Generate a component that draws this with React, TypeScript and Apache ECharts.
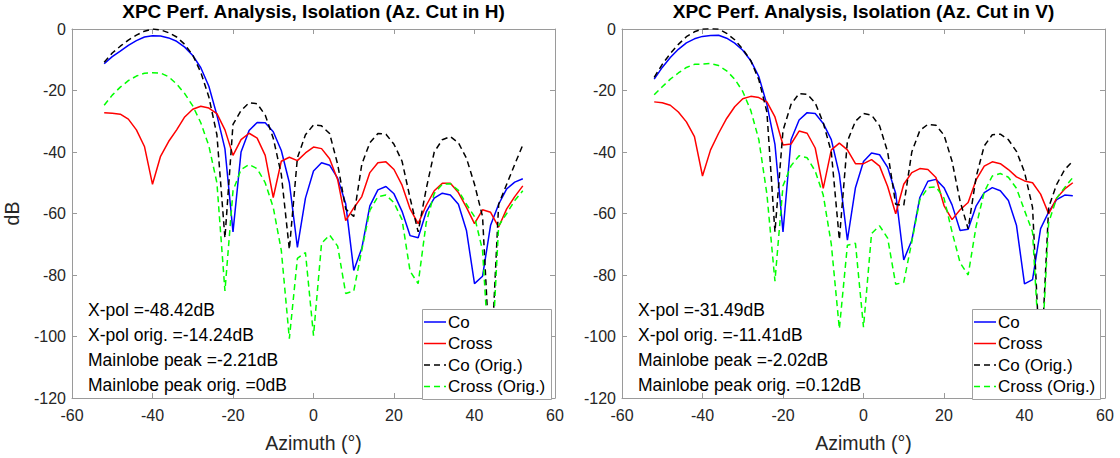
import React, { useEffect, useRef } from "react";
import * as echarts from "echarts";

const azimuth = [-52, -50, -48, -46, -44, -42, -40, -38, -36, -34, -32, -30, -28, -26, -24, -22, -20, -18, -16, -14, -12, -10, -8, -6, -4, -2, 0, 2, 4, 6, 8, 10, 12, 14, 16, 18, 20, 22, 24, 26, 28, 30, 32, 34, 36, 38, 40, 42, 44, 46, 48, 50, 52];

// Az. cut in H
const coH = [-11.3, -9.0, -7.2, -5.3, -3.8, -2.6, -2.21, -2.3, -2.9, -4.0, -5.9, -8.6, -12.6, -18.6, -28, -39, -66, -40, -33, -30.4, -30.5, -33.4, -39.5, -50, -71, -55, -46.2, -43.5, -44.3, -48.5, -56.8, -78.5, -71.3, -57.5, -52.3, -51.2, -53.6, -59.3, -67.2, -67.9, -59.5, -55, -53.4, -54, -57, -65.5, -82.8, -80.4, -63.8, -57, -52, -49.8, -48.7];
const crossH = [-27.2, -27.4, -27.7, -29.3, -32.8, -38.2, -50.5, -41.4, -36.6, -32.8, -28.6, -26.1, -25.1, -25.7, -27.5, -32.8, -41.1, -36, -33.9, -35.5, -41.1, -54.8, -43, -41.7, -42.8, -40.3, -38.4, -38.9, -42.2, -49, -62.3, -58.2, -54.5, -46.7, -43.5, -43.2, -45.7, -50.8, -58.5, -63.3, -57.4, -52.6, -50.2, -50.2, -53.2, -58, -63.3, -58.8, -59.6, -64.4, -58.5, -54.5, -51];
const coOrigH = [-10.8, -7.8, -5.6, -3.6, -2.0, -0.7, 0, -0.3, -1.2, -2.6, -5, -8.5, -14.1, -22.1, -34.4, -68, -31, -26.5, -24, -24.3, -28, -35.5, -47.3, -71.7, -41.9, -34.4, -31.2, -31.5, -34, -44, -58.5, -61, -44, -37, -34, -34.2, -37.5, -43, -55, -66, -52, -40, -36, -35, -37, -42, -50.5, -61, -112, -57, -50.5, -44, -37.7];
const crossOrigH = [-24.8, -21.5, -18.9, -16.8, -15.3, -14.4, -14.24, -14.3, -15.5, -17.9, -21, -25, -30.5, -38, -50, -85.2, -52.6, -45.7, -44.1, -45.4, -50, -58, -72, -100.7, -74.6, -72.7, -99.7, -69.7, -67, -70.6, -86, -85.2, -71.9, -59, -54.5, -54, -56.5, -62, -78.8, -82.8, -63, -53.5, -50.5, -50.3, -52.5, -57, -61, -72, -115, -64, -60, -55.8, -52.6];

// Az. cut in V
const coV = [-16.3, -12.5, -9.3, -6.6, -4.5, -3.2, -2.4, -2.1, -2.02, -3.0, -4.6, -6.9, -10.3, -15.5, -24.5, -37.5, -66, -36, -29.6, -27.2, -27.5, -30.7, -36, -47.3, -68.7, -51.6, -43.1, -40.3, -40.9, -45, -53.5, -75.1, -68.7, -54.8, -49.5, -48.9, -51.6, -57.2, -65.5, -65.1, -57.5, -53.2, -51.6, -52.6, -55.8, -63.8, -82.9, -81.5, -64.9, -59.5, -55.5, -54, -54.2];
const crossV = [-23.7, -24, -24.8, -27, -30.2, -35, -47.8, -39.3, -33.9, -29.1, -25.3, -22.7, -21.9, -22.3, -23.7, -28.6, -37.7, -37.4, -33.2, -33.9, -38.7, -51.8, -39.3, -37.1, -39.3, -43.8, -43.8, -42.5, -44.6, -51.2, -60.1, -50.5, -46.7, -45.4, -45.7, -48.3, -57.4, -62, -58.8, -56.4, -49, -44.6, -43.2, -43.8, -45.7, -48.1, -49.4, -50, -53.7, -60.1, -55, -52, -50];
const coOrigV = [-15.7, -11.5, -8, -5, -2.5, -0.9, 0, 0.12, 0, -1.4, -3.5, -6.5, -10.3, -16.5, -27, -66, -33, -24.5, -21, -21.2, -24, -30.5, -40, -68.5, -36.5, -30, -27.5, -28, -31.5, -40, -57, -57.4, -40, -33, -31, -31.3, -34.5, -43, -56, -65, -48, -38, -34.4, -34.2, -36, -39.8, -46.5, -58, -112, -58, -50.5, -45.7, -43];
const crossOrigV = [-21.4, -18.8, -16.3, -14.3, -12.5, -11.5, -11.41, -11.2, -11.9, -13.6, -16.3, -20.3, -26.5, -36, -53.7, -82, -51, -44.5, -41.2, -41.9, -46.2, -54, -70, -97.5, -70.3, -69.7, -97, -66.5, -64, -68, -83, -82.4, -69.2, -55.5, -51.6, -51.3, -55, -66, -76, -80, -64, -53, -47.8, -47, -48.2, -51.8, -59, -66, -112, -63, -55, -51.5, -48.3];

const seriesNames = ["Co", "Cross", "Co (Orig.)", "Cross (Orig.)"];
const titles = ["XPC Perf. Analysis, Isolation (Az. Cut in H)", "XPC Perf. Analysis, Isolation (Az. Cut in V)"];
const notesH = ["X-pol =-48.42dB", "X-pol orig. =-14.24dB", "Mainlobe peak =-2.21dB", "Mainlobe peak orig. =0dB"];
const notesV = ["X-pol =-31.49dB", "X-pol orig. =-11.41dB", "Mainlobe peak =-2.02dB", "Mainlobe peak orig. =0.12dB"];
const xTicks = { min: -60, max: 60, interval: 20 };
const yTicks = { min: -120, max: 0, interval: 20 };

const FONT = "'Liberation Sans', Arial, Helvetica, sans-serif";
const AXIS_GREY = "#9a9a9a";
const LABEL = "#262626";

export default function App() {
  const ref = useRef<HTMLDivElement>(null);
  useEffect(() => {
    if (!ref.current) return;
    const chart = echarts.init(ref.current, undefined, { renderer: "svg" });
    const gridLeft = [72, 622];
    const gridW = 483;
    const gridTop = 29;
    const gridH = 374;
    const panels = [
      { data: [coH, crossH, coOrigH, crossOrigH], notes: notesH },
      { data: [coV, crossV, coOrigV, crossOrigV], notes: notesV },
    ];
    const styles = [
      { color: "#0000ff", type: "solid", dash: null as any },
      { color: "#ff0000", type: "solid", dash: null as any },
      { color: "#000000", type: [6, 4], dash: [6, 4] },
      { color: "#00ff00", type: [6, 4], dash: [6, 4] },
    ];
    const xAxes: any[] = [];
    const yAxes: any[] = [];
    const series: any[] = [];
    const graphics: any[] = [];
    panels.forEach((p, gi) => {
      const tickCommon = { inside: true, length: 5, lineStyle: { color: AXIS_GREY } };
      xAxes.push({
        type: "value", gridIndex: gi, position: "bottom", ...xTicks,
        name: "Azimuth (°)", nameLocation: "middle", nameGap: 35,
        nameTextStyle: { fontSize: 19.5, color: LABEL, fontFamily: FONT },
        axisLine: { show: true, onZero: false, lineStyle: { color: AXIS_GREY } },
        axisTick: tickCommon,
        axisLabel: { fontSize: 16, color: LABEL, fontFamily: FONT, margin: 9 },
        splitLine: { show: false },
      });
      xAxes.push({
        type: "value", gridIndex: gi, position: "top", ...xTicks,
        axisLine: { show: true, onZero: false, lineStyle: { color: AXIS_GREY } },
        axisTick: tickCommon,
        axisLabel: { show: false },
        splitLine: { show: false },
      });
      yAxes.push({
        type: "value", gridIndex: gi, position: "left", ...yTicks,
        name: gi === 0 ? "dB" : "", nameLocation: "middle", nameGap: 50,
        nameTextStyle: { fontSize: 19.5, color: LABEL, fontFamily: FONT },
        axisLine: { show: true, onZero: false, lineStyle: { color: AXIS_GREY } },
        axisTick: tickCommon,
        axisLabel: { fontSize: 16, color: LABEL, fontFamily: FONT, margin: 6 },
        splitLine: { show: false },
      });
      yAxes.push({
        type: "value", gridIndex: gi, position: "right", ...yTicks,
        axisLine: { show: true, onZero: false, lineStyle: { color: AXIS_GREY } },
        axisTick: tickCommon,
        axisLabel: { show: false },
        splitLine: { show: false },
      });
      p.data.forEach((arr, si) => {
        series.push({
          type: "line",
          name: seriesNames[si],
          xAxisIndex: gi * 2,
          yAxisIndex: gi * 2,
          data: azimuth.map((x, i) => [x, arr[i]]),
          symbol: "none",
          lineStyle: { color: styles[si].color, width: 1.5, type: styles[si].type },
          itemStyle: { color: styles[si].color },
          z: 2 + si,
        });
      });
      p.notes.forEach((t, li) => {
        graphics.push({
          type: "text",
          x: gridLeft[gi] + 16,
          y: 310 + li * 25,
          z: 10,
          style: { text: t, fill: "#000", font: `17.5px ${FONT}`, textVerticalAlign: "middle" },
        });
      });
      // legend box
      const lx = gridLeft[gi] + 350;
      const lw = gi === 0 ? 129 : 128;
      graphics.push({
        type: "rect",
        z: 50,
        shape: { x: lx + 0.5, y: 309.5, width: lw, height: 90 },
        style: { fill: "#fff", stroke: "#a0a0a0", lineWidth: 1 },
      });
      seriesNames.forEach((nm, si) => {
        const cy = 322 + si * 21.5;
        graphics.push({
          type: "line",
          z: 51,
          shape: { x1: lx + 2, y1: cy, x2: lx + 24, y2: cy },
          style: { stroke: styles[si].color, lineWidth: 1.5, lineDash: styles[si].dash },
        });
        graphics.push({
          type: "text",
          z: 51,
          x: lx + 26,
          y: cy,
          style: { text: nm, fill: "#000", font: `17px ${FONT}`, textVerticalAlign: "middle" },
        });
      });
    });
    chart.setOption({
      animation: false,
      title: titles.map((t, gi) => ({
        text: t,
        left: gridLeft[gi] + gridW / 2,
        top: 2,
        textAlign: "center",
        padding: 0,
        textStyle: { fontSize: 19, fontWeight: "bold", color: "#000", fontFamily: FONT },
      })),
      grid: gridLeft.map((l) => ({ left: l, top: gridTop, width: gridW, height: gridH })),
      xAxis: xAxes,
      yAxis: yAxes,
      series,
      graphic: graphics,
    });
    return () => chart.dispose();
  }, []);
  return <div ref={ref} style={{ position: "absolute", left: 0, top: 0, width: 1120, height: 458 }} />;
}
